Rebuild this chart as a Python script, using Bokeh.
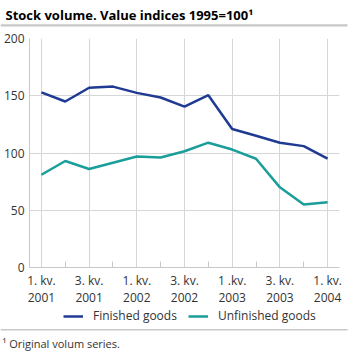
from bokeh.plotting import figure
from bokeh.models import FixedTicker, Legend, LegendItem, Range1d, BoxAnnotation
from bokeh.layouts import column
from bokeh.embed import file_html
from bokeh.resources import INLINE
from bokeh.core.properties import value

title_text = "Stock volume. Value indices 1995=100\u00b9"
footnote_text = "\u00b9 Original volum series."
series_names = ["Finished goods", "Unfinished goods"]
quarters = ["1. kv. 2001", "2. kv. 2001", "3. kv. 2001", "4. kv. 2001",
            "1. kv. 2002", "2. kv. 2002", "3. kv. 2002", "4. kv. 2002",
            "1. kv. 2003", "2. kv. 2003", "3. kv. 2003", "4. kv. 2003",
            "1. kv. 2004"]
tick_labels = ["1. kv.\n2001", "3. kv.\n2001", "1. kv.\n2002", "3. kv.\n2002",
               "1 .kv.\n2003", "3. kv.\n2003", "1. kv.\n2004"]
finished = [153, 145, 157, 158, 152.5, 148.5, 140.5, 150.5, 121, 115, 109, 106, 95]
unfinished = [81, 93, 86, 91.5, 97, 96, 101.5, 109, 103, 95, 70, 55, 57]
y_ticks = [0, 50, 100, 150, 200]

FONT = "Open Sans"
TXT = "#333333"
W = 356
BLUE = "#1f3a93"
TEAL = "#1a9e9a"
SEP = "#c8c8c8"


def blank(height):
    f = figure(width=W, height=height, x_range=Range1d(0, W), y_range=Range1d(0, height),
               toolbar_location=None, output_backend="svg", min_border=0,
               x_axis_location=None, y_axis_location=None, frame_align=False)
    f.grid.visible = False
    f.outline_line_color = None
    return f


def rule(fig, bottom, top):
    fig.add_layout(BoxAnnotation(left=0, right=347, bottom=bottom, top=top,
                                 fill_color=SEP, fill_alpha=1, line_color=None,
                                 line_alpha=0))


# ---- header (y measured upward from its bottom edge) ----
H_HDR = 28
hdr = blank(H_HDR)
hdr.text(x=[5], y=[H_HDR - 14], text=[title_text], text_font=value(FONT),
         text_font_size="13px", text_font_style="bold", text_color="#000000",
         text_baseline="middle", text_align="left")
rule(hdr, H_HDR - 26, H_HDR - 23.7)

# ---- main chart ----
x = list(range(len(quarters)))
p = figure(width=W, height=280, x_range=Range1d(-0.5, len(quarters) - 0.5),
           y_range=Range1d(0, 200), toolbar_location=None, output_backend="svg",
           min_border_left=25, min_border_right=17, min_border_top=10,
           min_border_bottom=37, frame_align=False)
p.outline_line_color = None
p.line(x, finished, line_color=BLUE, line_width=2.5)
p.line(x, unfinished, line_color=TEAL, line_width=2.5)

major = x[::2]
p.xaxis.ticker = FixedTicker(ticks=major, minor_ticks=x[1::2])
p.xaxis.major_label_overrides = {t: lab for t, lab in zip(major, tick_labels)}
p.xaxis.major_tick_line_color = None
p.xaxis.major_tick_out = 0
p.xaxis.major_tick_in = 0
p.xaxis.minor_tick_in = 6
p.xaxis.minor_tick_out = 0
p.xaxis.minor_tick_line_color = SEP
p.xaxis.axis_line_color = SEP
p.xaxis.major_label_standoff = 4
p.xaxis.major_label_text_line_height = 1.0

p.yaxis.ticker = FixedTicker(ticks=y_ticks)
p.yaxis.major_tick_line_color = None
p.yaxis.major_tick_out = 0
p.yaxis.major_tick_in = 0
p.yaxis.minor_tick_line_color = None
p.yaxis.axis_line_color = SEP
p.yaxis.major_label_standoff = 5

for ax in (p.xaxis, p.yaxis):
    ax.major_label_text_font = FONT
    ax.major_label_text_font_size = "12px"
    ax.major_label_text_color = TXT

p.xgrid.ticker = FixedTicker(ticks=major)
p.ygrid.ticker = FixedTicker(ticks=y_ticks)
p.grid.grid_line_color = "#d6d6d6"
p.grid.grid_line_width = 1

# ---- footer: legend, rule, footnote (y measured upward) ----
H_FTR = 45
ftr = blank(H_FTR)
k1 = ftr.line(x=[float("nan")], y=[float("nan")], line_color=BLUE, line_width=2.5)
k2 = ftr.line(x=[float("nan")], y=[float("nan")], line_color=TEAL, line_width=2.5)
legend = Legend(items=[LegendItem(label=series_names[0], renderers=[k1]),
                       LegendItem(label=series_names[1], renderers=[k2])],
                orientation="horizontal", location=(63, 29),
                label_text_font=FONT, label_text_font_size="12px",
                label_text_color=TXT, border_line_color=None,
                background_fill_alpha=0, glyph_width=20, glyph_height=14,
                label_height=14, spacing=11, padding=0, margin=0,
                label_standoff=10)
ftr.add_layout(legend)
rule(ftr, H_FTR - 22, H_FTR - 20.5)
ftr.text(x=[2], y=[H_FTR - 35], text=[footnote_text], text_font=value(FONT),
         text_font_size="11px", text_color=TXT, text_baseline="middle",
         text_align="left")

layout = column(hdr, p, ftr, spacing=0)
open("out.html", "w").write(file_html(layout, INLINE))
